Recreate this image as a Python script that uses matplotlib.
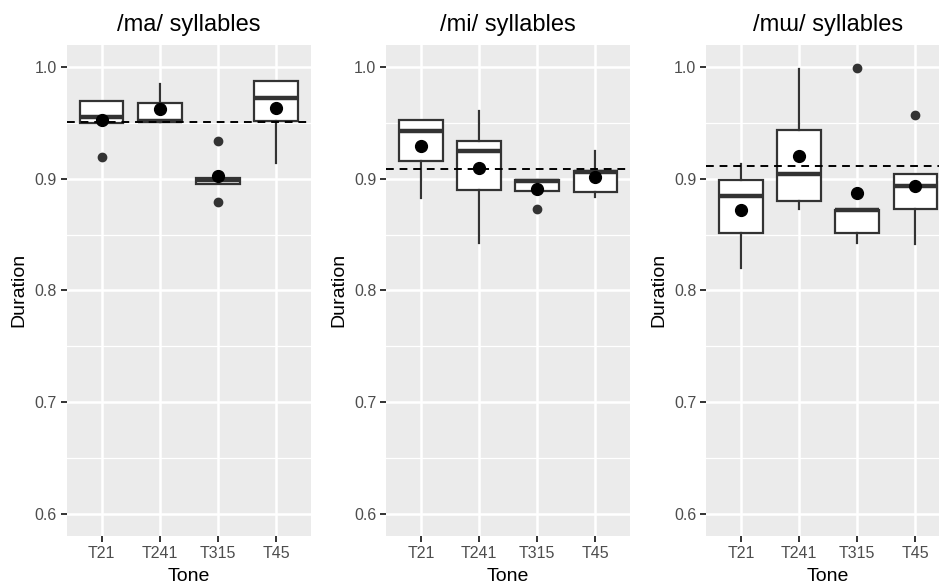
import matplotlib
matplotlib.use('Agg')
import matplotlib.pyplot as plt

tones = ['T21', 'T241', 'T315', 'T45']
titles = ['/ma/ syllables', '/mi/ syllables', '/mɯ/ syllables']

# box stats per panel: q1, median, q3, whisker low, whisker high
ma_q1 = [0.950, 0.9515, 0.8956, 0.952]
ma_med = [0.9555, 0.952, 0.899, 0.9726]
ma_q3 = [0.9693, 0.968, 0.9007, 0.9878]
ma_lo = [0.950, 0.951, 0.8956, 0.9144]
ma_hi = [0.970, 0.985, 0.9007, 0.9878]
ma_out = [[0.919], [], [0.934, 0.8795], []]
ma_mean = [0.953, 0.962, 0.902, 0.963]
ma_ref = 0.951

mi_q1 = [0.9159, 0.8896, 0.8887, 0.888]
mi_med = [0.9427, 0.9245, 0.898, 0.906]
mi_q3 = [0.9523, 0.9338, 0.8986, 0.9069]
mi_lo = [0.8825, 0.8428, 0.8887, 0.8836]
mi_hi = [0.9523, 0.9606, 0.8986, 0.9245]
mi_out = [[], [], [0.8726], []]
mi_mean = [0.929, 0.910, 0.891, 0.9015]
mi_ref = 0.9084

mu_q1 = [0.8517, 0.8804, 0.851, 0.8732]
mu_med = [0.8842, 0.9045, 0.872, 0.8935]
mu_q3 = [0.8992, 0.944, 0.8723, 0.904]
mu_lo = [0.820, 0.8732, 0.8424, 0.8412]
mu_hi = [0.9129, 0.9985, 0.8723, 0.904]
mu_out = [[], [], [0.999], [0.957]]
mu_mean = [0.8723, 0.9204, 0.887, 0.8935]
mu_ref = 0.9117

panels = [
    (ma_q1, ma_med, ma_q3, ma_lo, ma_hi, ma_out, ma_mean, ma_ref),
    (mi_q1, mi_med, mi_q3, mi_lo, mi_hi, mi_out, mi_mean, mi_ref),
    (mu_q1, mu_med, mu_q3, mu_lo, mu_hi, mu_out, mu_mean, mu_ref),
]

plt.rcParams['font.family'] = ['Liberation Sans', 'DejaVu Sans']

fig = plt.figure(figsize=(9.39, 5.83), dpi=100)
lefts = [0.0710, 0.4111, 0.7519]
box_col = '#333333'

for i, (q1, med, q3, lo, hi, out, mean, ref) in enumerate(panels):
    ax = fig.add_axes([lefts[i], 0.0806, 0.2602, 0.8427])
    ax.set_facecolor('#EBEBEB')
    for s in ax.spines.values():
        s.set_visible(False)

    stats = []
    for k in range(len(tones)):
        stats.append(dict(q1=q1[k], med=med[k], q3=q3[k], whislo=lo[k],
                          whishi=hi[k], fliers=out[k], mean=mean[k]))
    pos = list(range(1, len(tones) + 1))
    ax.bxp(stats, positions=pos, widths=0.75, showcaps=False, showmeans=True,
           patch_artist=True,
           boxprops=dict(facecolor='white', edgecolor=box_col, linewidth=1.6),
           whiskerprops=dict(color=box_col, linewidth=1.6),
           medianprops=dict(color=box_col, linewidth=3.2),
           flierprops=dict(marker='o', markerfacecolor=box_col,
                           markeredgecolor=box_col, markersize=6),
           meanprops=dict(marker='o', markerfacecolor='black',
                          markeredgecolor='black', markersize=8.5),
           zorder=3)
    ax.axhline(ref, color='black', linestyle=(0, (4, 3)), linewidth=1.4, zorder=4)

    ax.set_xlim(0.4, 4.6)
    ax.set_ylim(0.58, 1.02)
    ax.set_yticks([0.6, 0.7, 0.8, 0.9, 1.0])
    ax.set_yticklabels(['0.6', '0.7', '0.8', '0.9', '1.0'])
    ax.set_yticks([0.65, 0.75, 0.85, 0.95], minor=True)
    ax.set_xticks(pos)
    ax.set_xticklabels(tones)
    ax.grid(True, which='major', color='white', linewidth=1.8, zorder=0)
    ax.grid(True, which='minor', axis='y', color='white', linewidth=0.9, zorder=0)
    ax.set_axisbelow(True)
    ax.tick_params(axis='both', which='major', length=4, width=1.4,
                   color=box_col, labelcolor='#4D4D4D', labelsize=11.5, pad=3)
    ax.tick_params(axis='y', which='minor', length=0)
    ax.set_xlabel('Tone', fontsize=14, labelpad=5)
    ax.set_ylabel('Duration', fontsize=14, labelpad=5)
    ax.set_title(titles[i], fontsize=17, pad=10)

fig.savefig('out.png', dpi=100)
